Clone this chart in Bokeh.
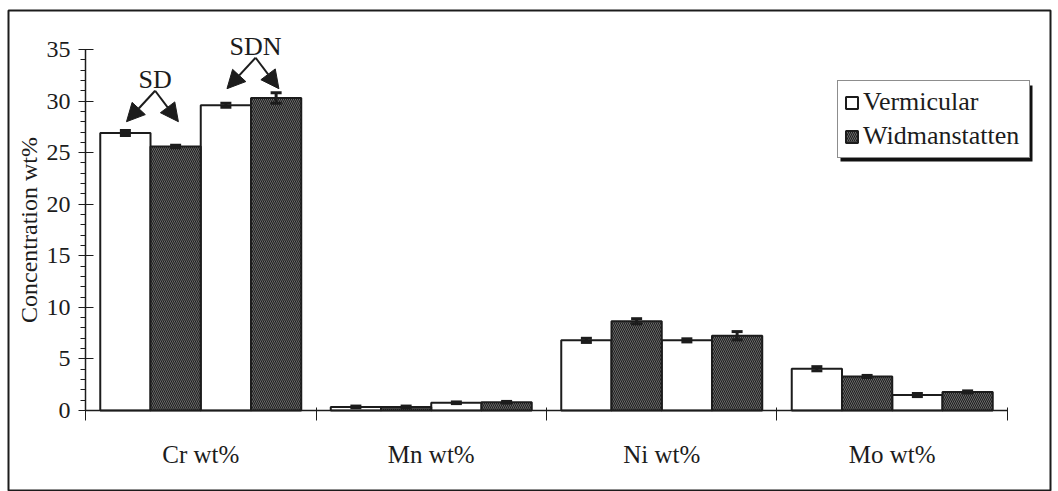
from bokeh.plotting import figure
from bokeh.models import (ColumnDataSource, Whisker, TeeHead, Arrow, NormalHead, Legend,
                          LegendItem, FixedTicker, SingleIntervalTicker, LinearAxis, Range1d,
                          Label)
from bokeh.embed import file_html
from bokeh.resources import INLINE

# ---------------- data ----------------
categories = ["Cr wt%", "Mn wt%", "Ni wt%", "Mo wt%"]
series_names = ["Vermicular", "Widmanstatten"]

verm_sd = [26.9, 0.35, 6.8, 4.05]
verm_sd_err = [0.25, 0.08, 0.2, 0.2]
widm_sd = [25.6, 0.35, 8.65, 3.3]
widm_sd_err = [0.12, 0.08, 0.25, 0.1]
verm_sdn = [29.6, 0.75, 6.8, 1.5]
verm_sdn_err = [0.2, 0.08, 0.15, 0.15]
widm_sdn = [30.3, 0.8, 7.25, 1.8]
widm_sdn_err = [0.5, 0.08, 0.4, 0.1]

y_ticks_interval = 5
y_max = 35

ann_labels = ["SD", "SDN"]
ann_tip_y = [28.0, 31.2]

FONT = "Liberation Serif"
INK = "#1c1c1c"

# ---------------- layout helpers ----------------
BW = 0.218                      # bar width (fraction of a category)
PAD = (1 - 4 * BW) / 2


def slot_x(g, k):
    return g + PAD + BW * (k + 0.5)


ng = len(categories)

p = figure(width=1058, height=491, output_backend="svg", toolbar_location=None,
           x_range=Range1d(-0.3341, 4.1866), y_range=Range1d(-7.853, 38.781),
           x_axis_location=None, y_axis_location=None,
           min_border_left=8, min_border_right=8, min_border_top=10, min_border_bottom=0)
p.outline_line_color = INK
p.outline_line_width = 2
p.background_fill_color = "white"
p.border_fill_color = "white"
p.grid.grid_line_color = None

# legend drop shadow (decoration, drawn first so it sits beneath the legend box)
p.quad(left=[3.2755], right=[4.1085], top=[31.51], bottom=[24.14],
       fill_color="#111111", line_color=None)

# ---------------- bars ----------------
vx = [slot_x(g, 0) for g in range(ng)] + [slot_x(g, 2) for g in range(ng)]
vtop = verm_sd + verm_sdn
verr = verm_sd_err + verm_sdn_err
wx = [slot_x(g, 1) for g in range(ng)] + [slot_x(g, 3) for g in range(ng)]
wtop = widm_sd + widm_sdn
werr = widm_sd_err + widm_sdn_err

vsrc = ColumnDataSource(dict(x=vx, top=vtop,
                             upper=[t + e for t, e in zip(vtop, verr)],
                             lower=[t - e for t, e in zip(vtop, verr)]))
wsrc = ColumnDataSource(dict(x=wx, top=wtop,
                             upper=[t + e for t, e in zip(wtop, werr)],
                             lower=[t - e for t, e in zip(wtop, werr)]))

rv = p.vbar(x="x", top="top", bottom=0, width=BW, source=vsrc,
            fill_color="white", line_color=INK, line_width=2)
rw = p.vbar(x="x", top="top", bottom=0, width=BW, source=wsrc,
            fill_color="#1e1e1e", line_color=INK, line_width=2,
            hatch_pattern="\\", hatch_color="#7c7c7c", hatch_scale=4, hatch_weight=0.8)

for src in (vsrc, wsrc):
    wh = Whisker(base="x", upper="upper", lower="lower", source=src, level="annotation",
                 line_color=INK, line_width=3,
                 upper_head=TeeHead(size=11, line_width=3, line_color=INK),
                 lower_head=TeeHead(size=11, line_width=3, line_color=INK))
    p.add_layout(wh)

# ---------------- axes ----------------
yaxis = LinearAxis(fixed_location=0, bounds=(0, y_max),
                   ticker=SingleIntervalTicker(interval=y_ticks_interval, num_minor_ticks=5))
yaxis.axis_line_color = INK
yaxis.axis_line_width = 1.5
yaxis.major_tick_in = 8
yaxis.major_tick_out = 7
yaxis.minor_tick_in = 0
yaxis.minor_tick_out = 5
yaxis.major_tick_line_color = INK
yaxis.minor_tick_line_color = INK
yaxis.major_label_text_font = FONT
yaxis.major_label_text_font_size = "24px"
yaxis.major_label_text_color = INK
yaxis.major_label_standoff = 8
yaxis.axis_label = "Concentration wt%"
yaxis.axis_label_text_font = FONT
yaxis.axis_label_text_font_size = "24px"
yaxis.axis_label_text_font_style = "normal"
yaxis.axis_label_text_color = INK
yaxis.axis_label_standoff = 2
p.add_layout(yaxis, "left")

xaxis = LinearAxis(fixed_location=0, bounds=(0, ng),
                   ticker=FixedTicker(ticks=list(range(ng + 1)), minor_ticks=[]))
xaxis.major_label_overrides = {i: "" for i in range(ng + 1)}
xaxis.axis_line_color = INK
xaxis.axis_line_width = 1.5
xaxis.major_tick_in = 3
xaxis.major_tick_out = 10
xaxis.major_tick_line_color = INK
xaxis.minor_tick_line_color = None
p.add_layout(xaxis, "below")

xlab = LinearAxis(fixed_location=0,
                  ticker=FixedTicker(ticks=[g + 0.5 for g in range(ng)], minor_ticks=[]))
xlab.major_label_overrides = {g + 0.5: c for g, c in enumerate(categories)}
xlab.axis_line_color = None
xlab.major_tick_line_color = None
xlab.minor_tick_line_color = None
xlab.major_label_text_font = FONT
xlab.major_label_text_font_size = "25px"
xlab.major_label_text_color = INK
xlab.major_label_standoff = 24
p.add_layout(xlab, "below")

# ---------------- SD / SDN annotations ----------------
for i, lab in enumerate(ann_labels):
    k0, k1 = 2 * i, 2 * i + 1
    mid = (slot_x(0, k0) + slot_x(0, k1)) / 2 + 0.02
    start_y = ann_tip_y[i] + 3.0
    for k in (k0, k1):
        p.add_layout(Arrow(end=NormalHead(size=18, fill_color=INK, line_color=INK),
                           x_start=mid, y_start=start_y,
                           x_end=slot_x(0, k) + 0.012 * (1 if k == k1 else 0.4),
                           y_end=ann_tip_y[i], line_width=2, line_color=INK))
    p.add_layout(Label(x=mid, y=start_y - 0.35, text=lab, text_align="center",
                       text_baseline="bottom", text_font=FONT,
                       text_font_size="26px", text_color=INK))

# ---------------- legend ----------------
legend = Legend(items=[LegendItem(label=series_names[0], renderers=[rv]),
                       LegendItem(label=series_names[1], renderers=[rw])],
                location=(829, 333))
legend.label_text_font = FONT
legend.label_text_font_size = "26px"
legend.label_text_color = INK
legend.glyph_width = 15
legend.glyph_height = 15
legend.label_standoff = 4
legend.label_height = 26
legend.label_width = 160
legend.padding = 6
legend.spacing = 4
legend.margin = 0
legend.border_line_color = INK
legend.border_line_width = 1.5
legend.background_fill_color = "white"
legend.background_fill_alpha = 1
p.add_layout(legend, "center")

open("out.html", "w").write(file_html(p, INLINE))
